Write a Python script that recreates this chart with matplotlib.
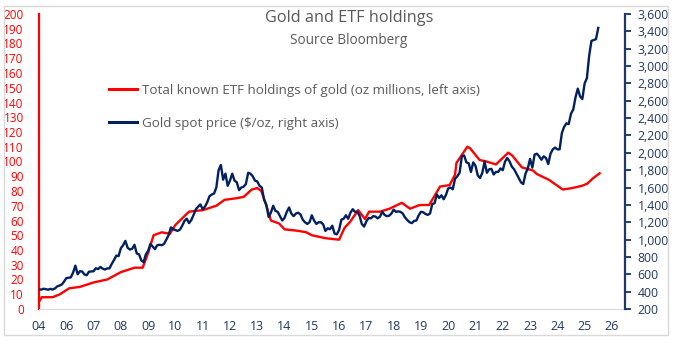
import numpy as np
import matplotlib
matplotlib.use("Agg")
import matplotlib.pyplot as plt
from matplotlib.patches import Rectangle

plt.rcParams['font.family'] = ['Open Sans', 'DejaVu Sans']

# gold spot price, $/oz, monthly from Jan 2005 (first tick is labelled "04" on the original)
gold_start = 2005.0
gold_price = (
    [428, 423, 434, 429, 422, 432, 424, 437, 460, 470, 482, 515] +        # 2005
    [555, 560, 565, 620, 700, 600, 635, 632, 598, 590, 630, 632] +        # 2006
    [635, 670, 660, 685, 665, 655, 668, 668, 720, 765, 815, 810] +        # 2007
    [900, 935, 985, 905, 885, 895, 940, 840, 830, 760, 740, 830] +        # 2008
    [870, 950, 920, 890, 935, 940, 935, 950, 1000, 1050, 1140, 1120] +    # 2009
    [1110, 1100, 1115, 1160, 1215, 1240, 1190, 1225, 1285, 1350, 1380, 1405] +  # 2010
    [1350, 1380, 1430, 1500, 1520, 1530, 1600, 1800, 1860, 1690, 1760, 1620] +  # 2011
    [1680, 1760, 1680, 1660, 1570, 1600, 1610, 1640, 1770, 1760, 1730, 1680] +  # 2012
    [1670, 1620, 1600, 1460, 1400, 1260, 1310, 1390, 1330, 1320, 1270, 1220] +  # 2013
    [1250, 1320, 1370, 1300, 1270, 1300, 1310, 1290, 1230, 1200, 1180, 1200] +  # 2014
    [1280, 1220, 1180, 1200, 1200, 1175, 1100, 1130, 1120, 1160, 1070, 1060] +  # 2015
    [1110, 1230, 1240, 1280, 1240, 1310, 1350, 1320, 1320, 1275, 1180, 1150] +  # 2016
    [1210, 1250, 1245, 1270, 1265, 1245, 1265, 1320, 1285, 1270, 1275, 1300] +  # 2017
    [1345, 1320, 1325, 1320, 1300, 1255, 1225, 1200, 1190, 1215, 1220, 1280] +  # 2018
    [1320, 1315, 1295, 1285, 1300, 1410, 1420, 1520, 1480, 1510, 1465, 1515] +  # 2019
    [1590, 1600, 1580, 1700, 1730, 1770, 1960, 1970, 1890, 1880, 1780, 1890] +  # 2020
    [1850, 1740, 1710, 1770, 1900, 1770, 1810, 1815, 1750, 1780, 1780, 1820] +  # 2021
    [1800, 1900, 1940, 1900, 1840, 1810, 1760, 1710, 1660, 1640, 1760, 1820] +  # 2022
    [1930, 1830, 1980, 1990, 1960, 1920, 1960, 1940, 1870, 1990, 2040, 2060] +  # 2023
    [2040, 2040, 2230, 2300, 2340, 2330, 2450, 2500, 2640, 2740, 2650, 2620] +  # 2024
    [2800, 2860, 3120, 3290, 3300, 3310, 3440]                                 # 2025
)

# total known ETF holdings of gold, oz millions
etf_year = [2005.0, 2005.1, 2005.5, 2005.77, 2006.1, 2006.5, 2007.0, 2007.5, 2008.0,
            2008.5, 2008.8, 2009.0, 2009.2, 2009.5, 2009.8, 2010.0, 2010.5, 2011.0,
            2011.5, 2011.8, 2012.2, 2012.5, 2012.8, 2013.0, 2013.15, 2013.3, 2013.5,
            2013.8, 2014.0, 2014.5, 2014.8, 2015.0, 2015.5, 2016.0, 2016.2, 2016.4,
            2016.7, 2016.95, 2017.1, 2017.5, 2017.85, 2018.3, 2018.6, 2018.95, 2019.3,
            2019.7, 2020.05, 2020.25, 2020.3, 2020.7, 2020.8, 2021.15, 2021.4, 2021.75,
            2022.2, 2022.35, 2022.7, 2023.1, 2023.25, 2023.7, 2024.2, 2024.55, 2024.9,
            2025.1, 2025.3, 2025.55]
etf_moz = [5, 8, 8, 10, 14, 15, 18, 20, 25,
           28, 28, 38, 50, 52, 51, 57, 66, 67,
           70, 74, 75, 76, 81, 82, 80, 72, 60,
           58, 54, 53, 52, 50, 48, 47, 55, 59,
           67, 61, 66, 66, 68, 72, 68, 70.5, 70.5,
           83, 84, 91, 99, 110, 109, 101, 100, 98,
           106, 104, 96, 94, 91.5, 87.5, 81, 82, 83.5,
           85, 88.5, 92]

tick_years = list(range(2005, 2027))
tick_labels = ['04'] + ['%02d' % (y % 100) for y in range(2006, 2027)]

red = '#FF0000'
navy = '#002060'
grey = '#595959'

gold_x = gold_start + np.arange(len(gold_price)) / 12.0

fig = plt.figure(figsize=(6.81, 3.44), dpi=100)
fig.patches.append(Rectangle((4 / 681, 9 / 344), 664 / 681, 329 / 344,
                             transform=fig.transFigure, fill=False,
                             edgecolor='#D9D9D9', linewidth=1.0))

ax = fig.add_axes([39 / 681, 35 / 344, 586 / 681, 295 / 344])
ax2 = ax.twinx()

ax.plot(etf_year, etf_moz, color=red, lw=1.7,
        label='Total known ETF holdings of gold (oz millions, left axis)')
ax2.plot(gold_x, gold_price, color=navy, lw=1.7,
         label='Gold spot price ($/oz, right axis)')

ax.set_xlim(2005.0, 2026.48)
ax.set_ylim(0, 200)
ax2.set_ylim(200, 3600)

ax.set_yticks(range(0, 201, 10))
ax.tick_params(axis='y', length=0, pad=11, labelsize=8.5, labelcolor=red)
ax.set_xticks(tick_years)
ax.set_xticklabels(tick_labels)
ax.tick_params(axis='x', length=0, pad=8, labelsize=9, labelcolor='#203864')

ax2.set_yticks(range(200, 3601, 200))
ax2.set_yticklabels(['{:,}'.format(v) for v in range(200, 3601, 200)])
ax2.tick_params(axis='y', length=4, width=1.2, color=navy, pad=5,
                labelsize=8.8, labelcolor='#203864')

for a in (ax, ax2):
    for side in ('top', 'left', 'right', 'bottom'):
        a.spines[side].set_visible(False)
ax.spines['left'].set_visible(True)
ax.spines['left'].set_color(red)
ax.spines['left'].set_linewidth(1.6)
ax2.spines['right'].set_visible(True)
ax2.spines['right'].set_color('#1F3864')
ax2.spines['right'].set_linewidth(1.6)
ax.spines['bottom'].set_visible(True)
ax.spines['bottom'].set_color('#D9D9D9')

fig.text(349 / 681, 1 - 18 / 344, 'Gold and ETF holdings', ha='center', va='center',
         fontsize=11.7, color=grey)
fig.text(349 / 681, 1 - 40 / 344, 'Source Bloomberg', ha='center', va='center',
         fontsize=9.8, color=grey)

h1, l1 = ax.get_legend_handles_labels()
h2, l2 = ax2.get_legend_handles_labels()
leg = ax.legend(h1 + h2, l1 + l2, loc='upper left', bbox_to_anchor=(0.108, 0.785),
                frameon=False, fontsize=9.6, labelcolor=grey, handlelength=2.1,
                handletextpad=0.35, labelspacing=1.5, borderpad=0)
for line in leg.get_lines():
    line.set_linewidth(2.2)

fig.savefig('out.png', dpi=100)
